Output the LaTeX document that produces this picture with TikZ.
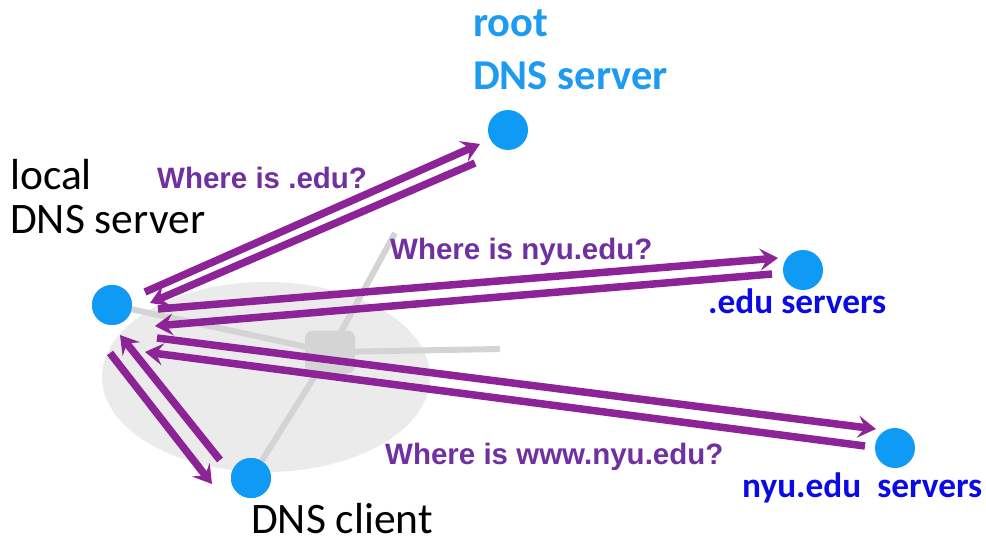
\documentclass[tikz,border=0pt]{standalone}
\usepackage{fontspec}
\setmainfont{Carlito}
\newfontfamily\arialb{Liberation Sans}[BoldFont={* Bold}]
\usetikzlibrary{arrows.meta,calc}
\definecolor{arrowpurple}{RGB}{140,35,150}
\definecolor{textpurple}{RGB}{112,48,160}
\definecolor{dotblue}{RGB}{15,155,245}
\definecolor{rootblue}{RGB}{30,155,240}
\definecolor{darkblue}{RGB}{10,10,230}
\definecolor{netgray}{RGB}{212,212,212}
\definecolor{cloudgray}{RGB}{235,235,235}
\tikzset{
  host/.style={circle,fill=dotblue,minimum size=40pt,inner sep=0pt},
  msg/.style={draw=arrowpurple,line width=7.5pt,-{Stealth[length=18pt,width=22pt,inset=7pt]}},
  qlabel/.style={text=textpurple,font=\arialb\bfseries\fontsize{29.5}{32}\selectfont,inner sep=0pt,anchor=base west},
  blabel/.style={font=\fontsize{43.5}{46}\selectfont,inner sep=0pt,anchor=base west},
  rlabel/.style={text=rootblue,font=\bfseries\fontsize{42.5}{46}\selectfont,inner sep=0pt,anchor=base west},
  svlabel/.style={text=darkblue,font=\bfseries\fontsize{35.3}{38}\selectfont,inner sep=0pt,anchor=base west},
  netline/.style={draw=netgray,line width=6pt}
}
\begin{document}
\begin{tikzpicture}[x=1pt,y=-1pt]
\useasboundingbox (0,0) rectangle (986,543);
% network cloud
\fill[cloudgray] (266,377) ellipse [x radius=164, y radius=95];
\node[fill=netgray,rounded corners=8pt,minimum width=50pt,minimum height=43pt,inner sep=0pt] (router) at (330,352) {};
\coordinate (netright) at (500,349);
\coordinate (netup) at (395,233);
% hosts
\node[host] (root) at (508,130) {};
\node[host] (local) at (112,305) {};
\node[host] (edu) at (803,270) {};
\node[host] (nyu) at (895,448) {};
\node[host] (client) at (251,478) {};
\draw[netline] (local.center) -- (router.center);
\draw[netline] (router.center) -- (netright);
\draw[netline] (router.center) -- (netup);
\draw[netline] (router.center) -- (client.center);
\node[host] at (local) {};
\node[host] at (client) {};
% arrow end points
\coordinate (r1s) at (145,292); \coordinate (r1e) at (480,144);
\coordinate (r2s) at (475,163); \coordinate (r2e) at (150,303);
\coordinate (e1s) at (158,309); \coordinate (e1e) at (778,258);
\coordinate (e2s) at (772,274); \coordinate (e2e) at (155,326);
\coordinate (n1s) at (157,338); \coordinate (n1e) at (876,429);
\coordinate (n2s) at (865,446); \coordinate (n2e) at (145,352);
\coordinate (c1s) at (220,460); \coordinate (c1e) at (120,335);
\coordinate (c2s) at (110,353); \coordinate (c2e) at (212,484);
\draw[msg] (r1s) -- (r1e);
\draw[msg] (r2s) -- (r2e);
\draw[msg] (e1s) -- (e1e);
\draw[msg] (e2s) -- (e2e);
\draw[msg] (n1s) -- (n1e);
\draw[msg] (n2s) -- (n2e);
\draw[msg] (c1s) -- (c1e);
\draw[msg] (c2s) -- (c2e);
% labels
\node[rlabel] (rootl1) at (473,37) {root};
\node[rlabel] (rootl2) at (473,89) {DNS server};
\node[blabel] (locl1) at (10,189) {local};
\node[blabel] (locl2) at (10,233) {DNS server};
\node[blabel] (clientl) at (251,533) {DNS client};
\node[svlabel] (edul) at (708,313) {.edu servers};
\node[svlabel] (nyul) at (742,497) {nyu.edu\ \ servers};
\node[qlabel] (q1) at (157,188) {Where is .edu?};
\node[qlabel] (q2) at (390,259) {Where is nyu.edu?};
\node[qlabel] (q3) at (385,464) {Where is www.nyu.edu?};
\end{tikzpicture}
\end{document}
